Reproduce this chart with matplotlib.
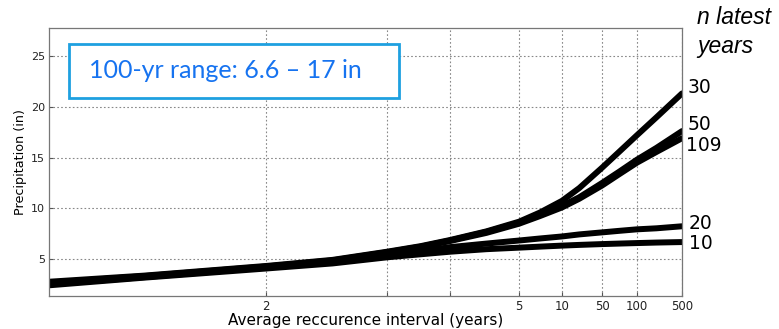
import numpy as np
import matplotlib
matplotlib.use('Agg')
import matplotlib.pyplot as plt
from matplotlib.patches import Rectangle

# return period (years) at which each curve was read
T = [1.2, 1.5, 2, 2.5, 3, 3.5, 4, 4.5, 5, 7, 10, 20, 50, 70, 100, 200, 500]

# precipitation (in) for the n latest years
n30 = [2.8, 3.4, 4.35, 4.95, 5.75, 6.3, 6.9, 7.75, 8.7, 9.6, 10.75, 12.0, 14.0, 15.55, 17.2, 18.95, 21.3]
n50 = [2.7, 3.35, 4.3, 4.9, 5.7, 6.25, 6.85, 7.7, 8.6, 9.35, 10.25, 11.1, 12.5, 13.6, 14.8, 15.95, 17.6]
n109 = [2.6, 3.3, 4.25, 4.85, 5.65, 6.2, 6.8, 7.6, 8.5, 9.25, 10.1, 10.95, 12.25, 13.35, 14.5, 15.55, 16.9]
n20 = [2.55, 3.25, 4.2, 4.7, 5.35, 5.8, 6.2, 6.55, 6.85, 7.05, 7.25, 7.45, 7.65, 7.8, 7.95, 8.05, 8.25]
n10 = [2.45, 3.2, 4.1, 4.6, 5.2, 5.5, 5.75, 6.0, 6.15, 6.25, 6.35, 6.42, 6.5, 6.55, 6.6, 6.65, 6.7]

series = [('30', n30), ('50', n50), ('109', n109), ('20', n20), ('10', n10)]

xtick_vals = [2, 3, 4, 5, 10, 50, 100, 500]
xtick_labels = ['2', '', '', '5', '10', '50', '100', '500']
yticks = [5, 10, 15, 20, 25]

# the axis of the original is stretched unevenly between its grid lines
knots_T = np.log([1.2, 2, 3, 4, 5, 10, 50, 100, 500])
knots_u = [0, 217, 338, 401, 470, 513, 553, 588, 633]


def fwd(t):
    t = np.clip(np.asarray(t, dtype=float), 1e-6, None)
    return np.interp(np.log(t), knots_T, knots_u)


def inv(u):
    return np.exp(np.interp(u, knots_u, knots_T))


fig = plt.figure(figsize=(7.79, 3.29), dpi=100)
ax = fig.add_axes([49 / 779, 1 - 296 / 329, (682 - 49) / 779, (296 - 28.3) / 329])
ax.set_xscale('function', functions=(fwd, inv))

offsets = {'30': (4, 4), '50': (4, 4.5), '109': (3, -5), '20': (5, 2), '10': (5, -1)}
for name, vals in series:
    ax.plot(T, vals, color='black', lw=4.3, solid_capstyle='round', solid_joinstyle='round')
    ax.annotate(name, (T[-1], vals[-1]), xytext=offsets[name], textcoords='offset points',
                fontsize=13.5, va='center', ha='left', annotation_clip=False)

ax.set_xlim(1.2, 500)
ax.set_ylim(1.4, 27.7)
ax.set_xticks(xtick_vals)
ax.set_xticklabels(xtick_labels, fontsize=8.5)
ax.xaxis.set_minor_locator(matplotlib.ticker.NullLocator())
ax.set_yticks(yticks)
ax.tick_params(axis='y', labelsize=8)
ax.tick_params(direction='in', length=3, color='#555555', labelcolor='#222222', pad=3)
ax.grid(True, linestyle=(0, (1.5, 2)), color='#888888', lw=0.8)
for s in ax.spines.values():
    s.set_color('#777777')
    s.set_linewidth(0.9)

ax.set_xlabel('Average reccurence interval (years)', fontsize=11, labelpad=0)
ax.set_ylabel('Precipitation (in)', fontsize=9.2, labelpad=3)

# right-hand header
fig.text(697 / 779, 1 - 18 / 329, 'n latest', fontsize=16.5, style='italic',
         family='Liberation Sans', va='center', ha='left')
fig.text(697 / 779, 1 - 47 / 329, 'years', fontsize=16.5, style='italic',
         family='Liberation Sans', va='center', ha='left')

# boxed callout
fig.patches.append(Rectangle((69 / 779, 1 - 97.7 / 329), (399 - 69) / 779, (97.7 - 44.3) / 329,
                             transform=fig.transFigure, facecolor='white',
                             edgecolor='#1ea0e0', lw=2, zorder=5))
fig.text(225 / 779, 1 - 71 / 329, '100-yr range: 6.6 \u2013 17 in', fontsize=18,
         color='#1673f0', family='Lato', ha='center', va='center', zorder=6)

fig.savefig('out.png', dpi=100)
